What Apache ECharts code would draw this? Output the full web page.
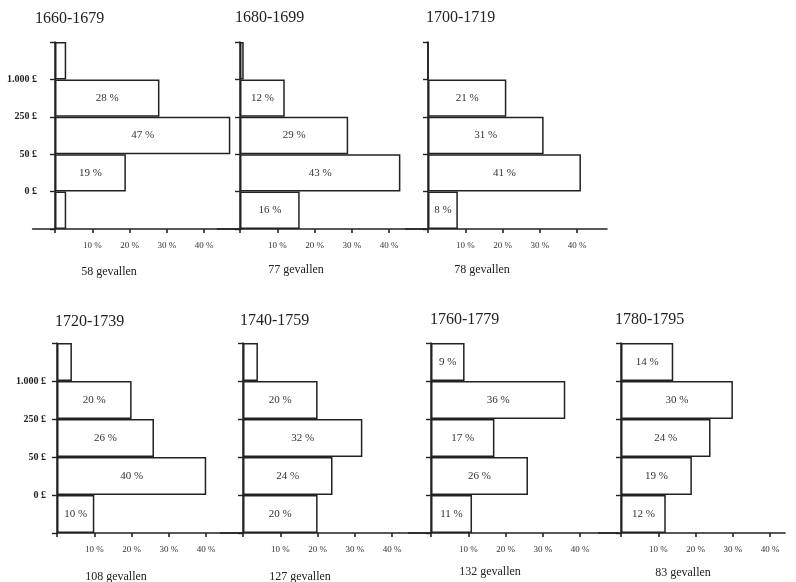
<!DOCTYPE html>
<html>
<head>
<meta charset="utf-8">
<script src="https://cdn.jsdelivr.net/npm/echarts@6/dist/echarts.min.js"></script>
<style>html,body{margin:0;padding:0;background:#fff}#c{width:796px;height:582px}</style>
</head>
<body>
<div id="c"></div>
<script>
// ---- data ----
const periods = ['1660-1679', '1680-1699', '1700-1719', '1720-1739', '1740-1759', '1760-1779', '1780-1795'];
const cases = [58, 77, 78, 108, 127, 132, 83];
// wealth bands, bottom to top
const bands = ['< 0 £', '0-50 £', '50-250 £', '250-1.000 £', '> 1.000 £'];
const boundaryLabels = ['', '0 £', '50 £', '250 £', '1.000 £', ''];
const pct1660 = [3, 19, 47, 28, 3];
const pct1680 = [16, 43, 29, 12, 1];
const pct1700 = [8, 41, 31, 21, 0];
const pct1720 = [10, 40, 26, 20, 4];
const pct1740 = [20, 24, 32, 20, 4];
const pct1760 = [11, 26, 17, 36, 9];
const pct1780 = [12, 19, 24, 30, 14];
const xTicks = [10, 20, 30, 40];
const tickMarks = [0, 10, 20, 30, 40];

const panels = [pct1660, pct1680, pct1700, pct1720, pct1740, pct1760, pct1780];

// ---- layout ----
const SCALE = 3.73; // px per percent
const L = {
  axisX:   [55, 240, 428, 57, 243, 431, 621],
  top:     [42, 42, 42, 343, 343, 343, 343],
  height:  [187, 187, 187, 190, 190, 190, 190],
  xMin:    [-6, -6, -6, 0, -6, -6, -6],
  xMax:    [50, 50, 48, 50, 50, 50, 44],
  titleX:  [35, 235, 426, 55, 240, 430, 615],
  titleY:  [19, 18, 18, 322, 321, 320, 320],
  capDX:   [54, 56, 54, 59, 57, 59, 62],
  capY:    [272, 270, 270, 577, 577, 572, 573],
  yLabels: [true, false, false, true, false, false, false],
  labelRight: [37, 0, 0, 46, 0, 0, 0]
};
const SERIF = '"Liberation Serif", "DejaVu Serif", serif';
const INK = '#222';

const grid = [], xAxis = [], yAxis = [], series = [], graphic = [];
panels.forEach((vals, i) => {
  const left = L.axisX[i] + L.xMin[i] * SCALE;
  const width = (L.xMax[i] - L.xMin[i]) * SCALE;
  grid.push({ left: left, top: L.top[i], width: width, height: L.height[i], containLabel: false, outerBoundsMode: 'none' });
  xAxis.push({
    type: 'value', gridIndex: i, min: L.xMin[i], max: L.xMax[i],
    splitLine: { show: false },
    axisLine: { show: true, onZero: false, lineStyle: { color: INK, width: 1.6 } },
    axisTick: { show: true, customValues: tickMarks, length: 4, lineStyle: { color: INK, width: 1.6 } },
    axisLabel: { customValues: xTicks, formatter: '{value} %', margin: 12, fontFamily: SERIF, fontSize: 9, color: '#333' }
  });
  yAxis.push({
    type: 'value', gridIndex: i, min: 0, max: 5, interval: 1, position: 'left',
    splitLine: { show: false },
    axisLine: { show: true, onZero: true, lineStyle: { color: INK, width: 1.6 } },
    axisTick: { show: true, length: 5, lineStyle: { color: INK, width: 1.4 } },
    axisLabel: {
      show: L.yLabels[i], margin: left - L.labelRight[i], fontFamily: SERIF, fontSize: 10, fontWeight: 'bold', color: '#222',
      padding: [0, 0, 4, 0],
      formatter: v => boundaryLabels[Math.round(v)] || ''
    }
  });
  yAxis.push({
    type: 'category', gridIndex: i, data: bands, show: false,
    axisLine: { onZero: false }
  });
  series.push({
    type: 'bar', xAxisIndex: i, yAxisIndex: 2 * i + 1, data: vals,
    barCategoryGap: '0%', barWidth: '100%',
    itemStyle: { color: '#fff', borderColor: INK, borderWidth: 1.5 },
    label: {
      show: true, position: 'inside', fontFamily: SERIF, fontSize: 11, color: '#333',
      formatter: p => p.value >= 5 ? p.value + ' %' : ''
    },
    silent: true, animation: false, z: 1
  });
  graphic.push({
    type: 'text', x: L.titleX[i], y: L.titleY[i],
    style: { text: periods[i], font: '16px ' + SERIF, fill: '#222', align: 'left', verticalAlign: 'middle' }
  });
  graphic.push({
    type: 'text', x: L.axisX[i] + L.capDX[i], y: L.capY[i],
    style: { text: cases[i] + ' gevallen', font: '12px ' + SERIF, fill: '#222', align: 'center', verticalAlign: 'middle' }
  });
});

const chart = echarts.init(document.getElementById('c'), null, { renderer: 'canvas' });
chart.setOption({
  backgroundColor: '#fff',
  animation: false,
  grid, xAxis, yAxis, series, graphic
});
</script>
</body>
</html>
